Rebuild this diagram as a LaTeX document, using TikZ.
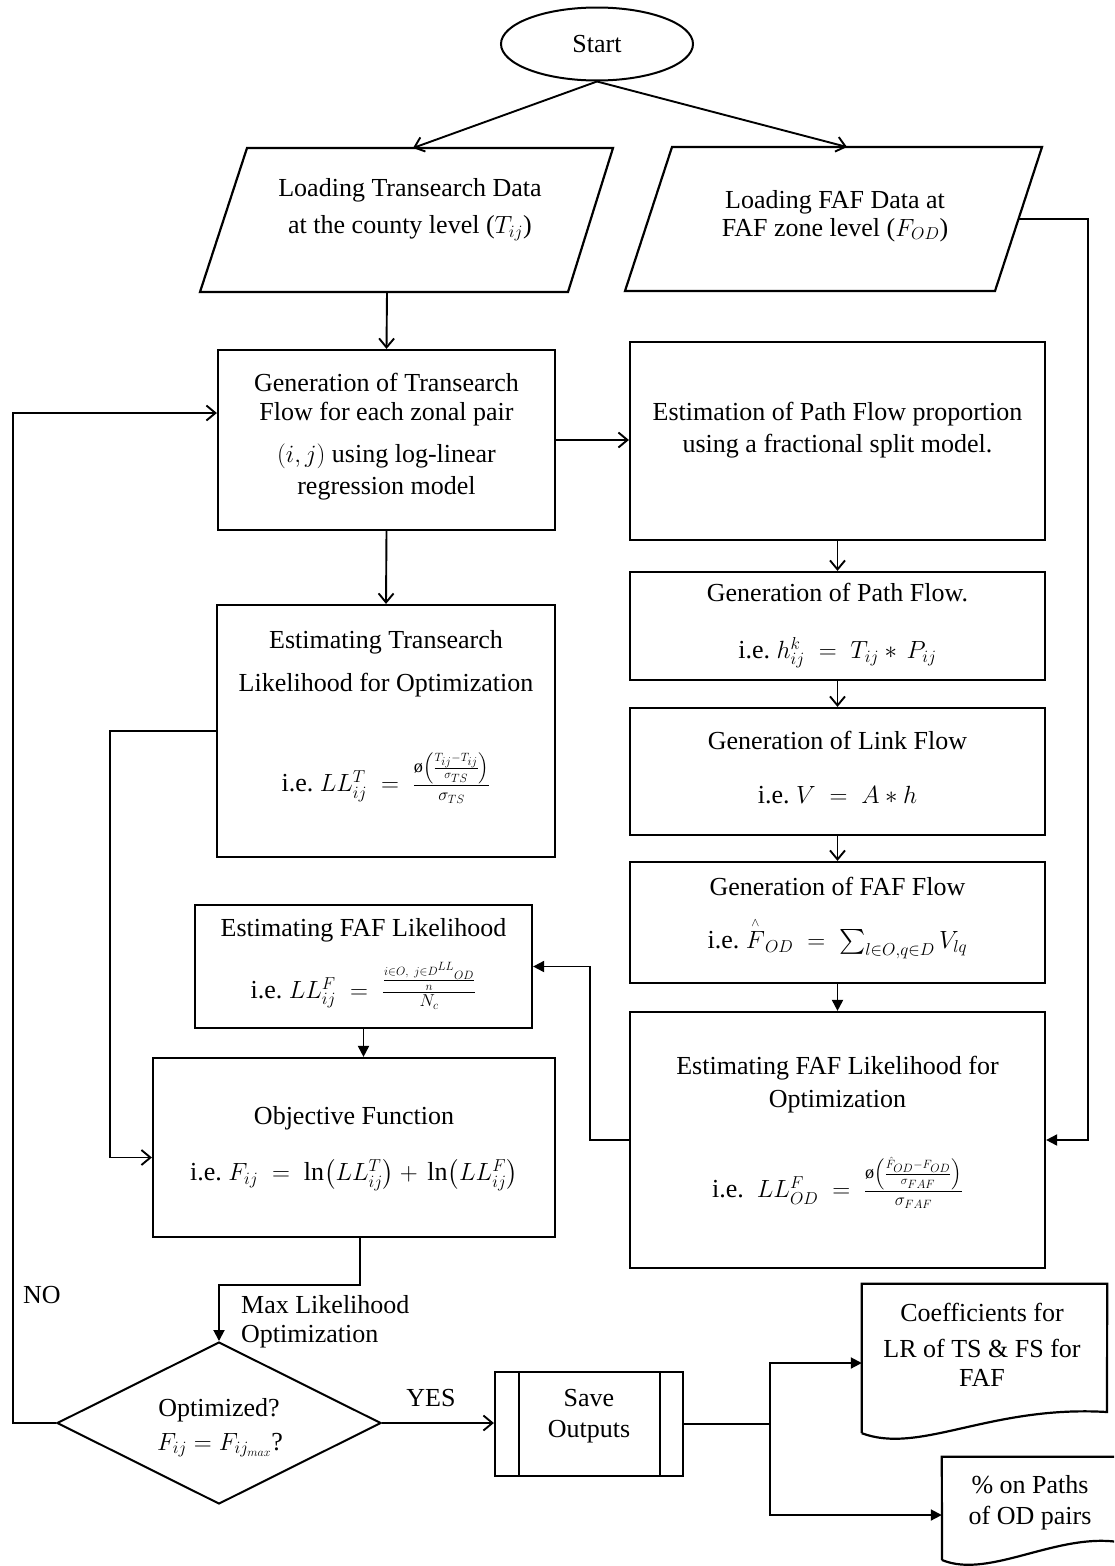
\documentclass[tikz,border=0pt]{standalone}
\usepackage{amsmath}
\usepackage{fontspec}
\setmainfont{Liberation Serif}
\usetikzlibrary{shapes.geometric,arrows.meta}

\begin{document}
\begin{tikzpicture}[x=1pt,y=-1pt,
  box/.style={draw, line width=2.2pt, rectangle, inner sep=0pt},
  ghost/.style={rectangle, inner sep=0pt},
  txt/.style={font=\fontsize{26}{30}\selectfont, inner sep=0pt, align=center},
  conn/.style={line width=1.9pt, -{Straight Barb[length=9pt,width=15pt,line width=1.9pt]}},
  connf/.style={line width=1.9pt, -{Triangle[length=11pt,width=11pt]}},
  plain/.style={line width=1.9pt},
  shapeline/.style={line width=2.2pt, line join=miter},
]
\useasboundingbox (0,0) rectangle (1114,1566);
\clip (0,0) rectangle (1114,1566);

% ---------- Start ----------
\node[ellipse, draw, line width=2pt, minimum width=192pt, minimum height=73pt, inner sep=0pt, txt] (start) at (597,44) {Start};

% ---------- Input parallelograms ----------
\draw[shapeline] (247,148) -- (613,148) -- (568,292) -- (200,292) -- cycle;
\coordinate (tsin) at (413,148);
\coordinate (tsout) at (387,292);
\node[txt] (tsA) at (410,190) {Loading Transearch Data};
\node[txt] (tsB) at (410,228) {at the county level ($T_{ij}$)};

\draw[shapeline] (672,147) -- (1042,147) -- (995,291) -- (625,291) -- cycle;
\coordinate (fafin) at (847,147);
\coordinate (fafout) at (1018.5,219);
\node[txt] (fA) at (835,202) {Loading FAF Data at};
\node[txt] (fB) at (835,230) {FAF zone level ($F_{OD}$)};

% ---------- Left column ----------
\node[box, minimum width=337pt, minimum height=180pt] (gen) at (386.5,440) {};
\node[txt] (genA) at (386.5,382) {Generation of Transearch};
\node[txt] (genB) at (386.5,414) {Flow for each zonal pair};
\node[txt] (genC) at (386.5,456) {$(i,j)$ using log-linear};
\node[txt] (genD) at (386.5,488) {regression model};

\node[box, minimum width=338pt, minimum height=252pt] (tslik) at (386,731) {};
\node[txt] (tslA) at (386,642) {Estimating Transearch};
\node[txt] (tslB) at (386,685) {Likelihood for Optimization};
\node[txt] (tslC) at (386,778) {i.e.\ $LL^{T}_{ij} \;=\; \frac{\text{ø}\left(\frac{T_{ij}-T_{ij}}{\sigma_{TS}}\right)}{\sigma_{TS}}$};

\node[box, minimum width=337pt, minimum height=123pt] (faflik) at (363.5,966.5) {};
\node[txt] (flA) at (363.5,930) {Estimating FAF Likelihood};
\node[txt] (flB) at (363.5,986) {i.e.\ $LL^{F}_{ij} \;=\; \frac{\frac{i\in O,\;\, j\in D^{LL}{}_{OD}}{n}}{N_c}$};

\node[box, minimum width=402pt, minimum height=179pt] (obj) at (354,1147.5) {};
\node[txt] (objA) at (354,1118) {Objective Function};
\node[txt] (objB) at (354,1175) {i.e.\ $F_{ij} \;=\; \ln\!\left(LL^{T}_{ij}\right) + \,\ln\!\left(LL^{F}_{ij}\right)$};

% ---------- Right column ----------
\node[box, minimum width=415pt, minimum height=198pt] (prop) at (837.5,441) {};
\node[txt] (propA) at (837.5,414) {Estimation of Path Flow proportion};
\node[txt] (propB) at (837.5,446) {using a fractional split model.};

\node[box, minimum width=415pt, minimum height=108pt] (path) at (837.5,626) {};
\node[txt] (pathA) at (837.5,593) {Generation of Path Flow.};
\node[txt] (pathB) at (837.5,653) {i.e.\ $h^{k}_{ij} \;=\; T_{ij} * \,P_{ij}$};

\node[box, minimum width=415pt, minimum height=127pt] (link) at (837.5,771.5) {};
\node[txt] (linkA) at (837.5,740) {Generation of Link Flow};
\node[txt] (linkB) at (837.5,795) {i.e.\ $V \;=\; A * h$};

\node[box, minimum width=415pt, minimum height=121pt] (faff) at (837.5,922.5) {};
\node[txt] (faffA) at (837.5,886) {Generation of FAF Flow};
\node[txt] (faffB) at (837.5,938) {i.e.\ $\overset{\scriptscriptstyle\wedge}{F}_{OD} \;=\; \sum_{l\in O,q\in D} V_{lq}$};

\node[box, minimum width=415pt, minimum height=256pt] (fafopt) at (837.5,1140) {};
\node[txt] (foA) at (837.5,1068) {Estimating FAF Likelihood for};
\node[txt] (foB) at (837.5,1102) {Optimization};
\node[txt] (foC) at (837.5,1183) {i.e.\ \ $LL^{F}_{OD} \;=\; \frac{\text{ø}\left(\frac{\hat{F}_{OD}-F_{OD}}{\sigma_{FAF}}\right)}{\sigma_{FAF}}$};

% ---------- Decision ----------
\node[diamond, draw, line width=2pt, minimum width=324pt, minimum height=162pt, inner sep=0pt, aspect=2] (dec) at (219,1423) {};
\node[txt] (decA) at (219,1410) {Optimized?};
\node[txt] (decB) at (220,1445) {$F_{ij} = F_{ij_{max}}$?};

\node[txt, anchor=west] (mlA) at (241,1305) {Max Likelihood};
\node[txt, anchor=west] (mlB) at (241,1337) {Optimization};
\node[txt] (yes) at (431,1398) {YES};
\node[txt] (no) at (42,1295) {NO};

% ---------- Save outputs ----------
\node[box, minimum width=188pt, minimum height=104pt] (save) at (589,1424) {};
\draw[line width=2pt] ([xshift=25pt]save.north west) -- ([xshift=25pt]save.south west);
\draw[line width=2pt] ([xshift=-24pt]save.north east) -- ([xshift=-24pt]save.south east);
\node[txt] (saveA) at (589,1398) {Save};
\node[txt] (saveB) at (589,1432) {Outputs};

% ---------- Documents ----------
\node[ghost, minimum width=245pt, minimum height=149pt] (coef) at (984.5,1358.5) {};
\draw[shapeline] (coef.south west) -- (coef.north west) -- (coef.north east) -- (1107,1412)
  .. controls (990,1405) and (920,1455) .. (coef.south west);
\node[txt] (coefA) at (982,1312) {Coefficients for};
\node[txt] (coefB) at (982,1348) {LR of TS \& FS for};
\node[txt] (coefC) at (982,1378) {FAF};

\node[ghost, minimum width=182pt, minimum height=106pt] (pct) at (1033,1510) {};
\draw[shapeline] (942,1560) -- (pct.north west) -- (pct.north east) -- (1124,1543)
  .. controls (1060,1530) and (990,1580) .. (942,1560);
\node[txt] (pctA) at (1030,1485) {\% on Paths};
\node[txt] (pctB) at (1030,1518) {of OD pairs};

% ---------- Connectors ----------
\draw[conn] (start.south) -- (tsin);
\draw[conn] (start.south) -- (fafin);
\draw[conn] (tsout) -- (gen.north);
\draw[conn] (gen.east) -- (gen.east -| prop.west);
\draw[conn] (prop.south) -- (path.north);
\draw[conn] (path.south) -- (link.north);
\draw[conn] (link.south) -- (faff.north);
\draw[connf] (faff.south) -- (fafopt.north);
\draw[conn] (gen.south) -- (tslik.north);

\coordinate (fr) at (1088,219);
\draw[connf] (fafout) -- (fr) |- (fafopt.east);

\coordinate (fl) at (590,1140);
\draw[connf] (fafopt.west) -- (fl) |- (faflik.east);

\coordinate (tl) at (110,731);
\draw[conn] (tslik.west) -- (tl) |- ([yshift=-10pt]obj.west);

\draw[connf] (faflik.south) -- (faflik.south |- obj.north);

\coordinate (c1) at (360,1285);
\draw[connf] (c1 |- obj.south) -- (c1) -| (dec.north);

\coordinate (nl) at (13,1423);
\draw[conn] (dec.west) -- (nl) |- ([yshift=27pt]gen.west);

\draw[conn] (dec.east) -- (dec.east -| save.west);

\coordinate (sp) at (770,1424);
\draw[plain] (save.east) -- (sp);
\draw[connf] (sp) |- ([yshift=-4.5pt]coef.west);
\draw[connf] (sp) |- ([yshift=-5pt]pct.west);
\end{tikzpicture}
\end{document}
